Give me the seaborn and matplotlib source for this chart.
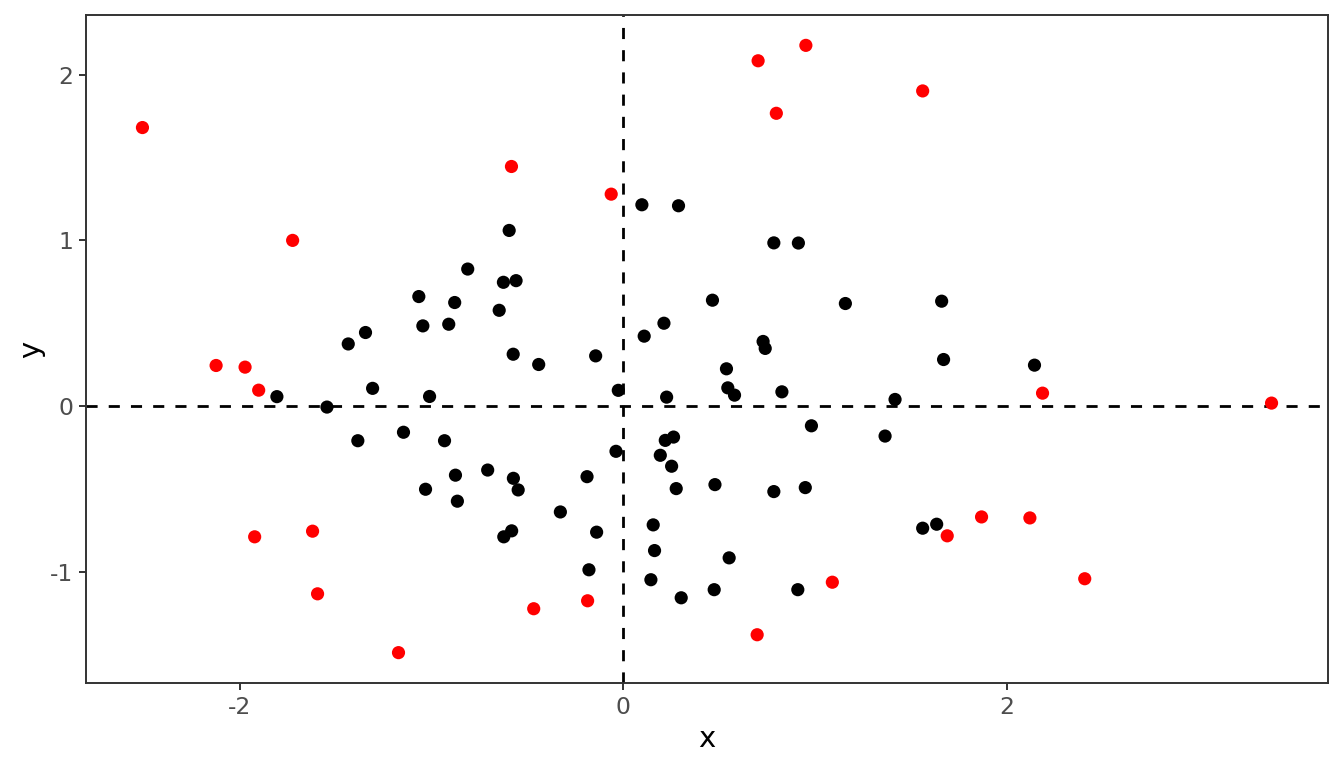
import matplotlib
matplotlib.use("Agg")
from matplotlib import pyplot as plt
import seaborn as sns
import pandas as pd
import numpy as np

# =============================================================================
# data
# =============================================================================
x_normal = [0.097, 0.288, -0.595, -0.811, -1.066, -0.879, -0.647, -0.625, -0.559, -1.434,
            -1.344, -1.045, -0.910, -0.574, -0.441, -0.144, 0.109, 0.212, 0.465, 0.785,
            0.913, 1.158, 1.660, 1.670, 2.144, 0.729, 0.740, 0.538, 0.545, 0.580,
            0.827, -0.026, 0.226, -1.806, -1.307, -1.010, -1.545, 1.417, 0.981, 1.365,
            -1.384, -1.146, -0.932, -0.875, -0.707, -0.573, -0.548, -1.031, -0.865, -0.582,
            -0.623, -0.328, -0.189, -0.038, 0.193, 0.219, 0.262, 0.252, 0.276, 0.478,
            0.785, 0.949, -0.139, 0.156, 0.163, 0.552, -0.179, 0.144, 0.474, 0.910,
            0.302, 1.561, 1.634]
y_normal = [1.215, 1.209, 1.060, 0.827, 0.661, 0.625, 0.578, 0.747, 0.757, 0.375,
            0.444, 0.484, 0.494, 0.313, 0.251, 0.303, 0.422, 0.500, 0.639, 0.985,
            0.984, 0.619, 0.633, 0.281, 0.247, 0.390, 0.348, 0.225, 0.110, 0.066,
            0.086, 0.095, 0.054, 0.057, 0.107, 0.058, -0.006, 0.040, -0.119, -0.181,
            -0.209, -0.158, -0.209, -0.417, -0.386, -0.436, -0.506, -0.502, -0.574, -0.753,
            -0.789, -0.639, -0.426, -0.273, -0.297, -0.207, -0.187, -0.363, -0.498, -0.474,
            -0.516, -0.492, -0.761, -0.717, -0.872, -0.916, -0.988, -1.048, -1.108, -1.108,
            -1.157, -0.737, -0.713]

x_outlier = [-2.507, -2.123, -1.972, -1.901, -1.724, -1.922, -1.620, -1.594, -1.172, -0.583,
             -0.467, -0.186, -0.063, 0.698, 0.703, 0.798, 0.952, 1.090, 1.561, 1.689,
             1.868, 2.120, 2.186, 2.406, 3.380]
y_outlier = [1.681, 0.245, 0.235, 0.096, 1.000, -0.789, -0.755, -1.133, -1.488, 1.446,
             -1.223, -1.175, 1.279, -1.380, 2.084, 1.767, 2.177, -1.063, 1.902, -0.783,
             -0.669, -0.675, 0.078, -1.042, 0.018]

x_ticks = [-2, 0, 2]
y_ticks = [-1, 0, 1, 2]

df = pd.DataFrame({
    "x": x_normal + x_outlier,
    "y": y_normal + y_outlier,
    "outlier": [False] * len(x_normal) + [True] * len(x_outlier),
})

# =============================================================================
# plotting
# =============================================================================
sns.set_style("white")
plt.rcParams["font.family"] = ["DejaVu Sans"]
plt.rcParams["axes.unicode_minus"] = False

fig = plt.figure(figsize=(13.44, 7.68), dpi=100)
ax = fig.add_axes([86 / 1344, 85 / 768, 1242 / 1344, 668 / 768])

sns.scatterplot(data=df, x="x", y="y", hue="outlier",
                palette={False: "black", True: "red"},
                s=90, linewidth=0, legend=False, ax=ax, zorder=3)

ax.axvline(0, color="black", linestyle=(0, (4, 4)), linewidth=2, zorder=2)
ax.axhline(0, color="black", linestyle=(0, (4, 4)), linewidth=2, zorder=2)

ax.margins(0.05)
ax.set_xticks(x_ticks)
ax.set_yticks(y_ticks)
ax.set_xticklabels([str(t) for t in x_ticks])
ax.set_yticklabels([str(t) for t in y_ticks])
ax.tick_params(axis="both", length=5, width=1.4, color="#333333",
               labelcolor="#4D4D4D", labelsize=16.9, pad=4, direction="out",
               bottom=True, left=True)
ax.set_xlabel("x", fontsize=21, color="black", labelpad=5)
ax.set_ylabel("y", fontsize=21, color="black", labelpad=4)

for sp in ax.spines.values():
    sp.set_color("#333333")
    sp.set_linewidth(1.4)
ax.grid(False)

fig.savefig("out.png", dpi=100)
